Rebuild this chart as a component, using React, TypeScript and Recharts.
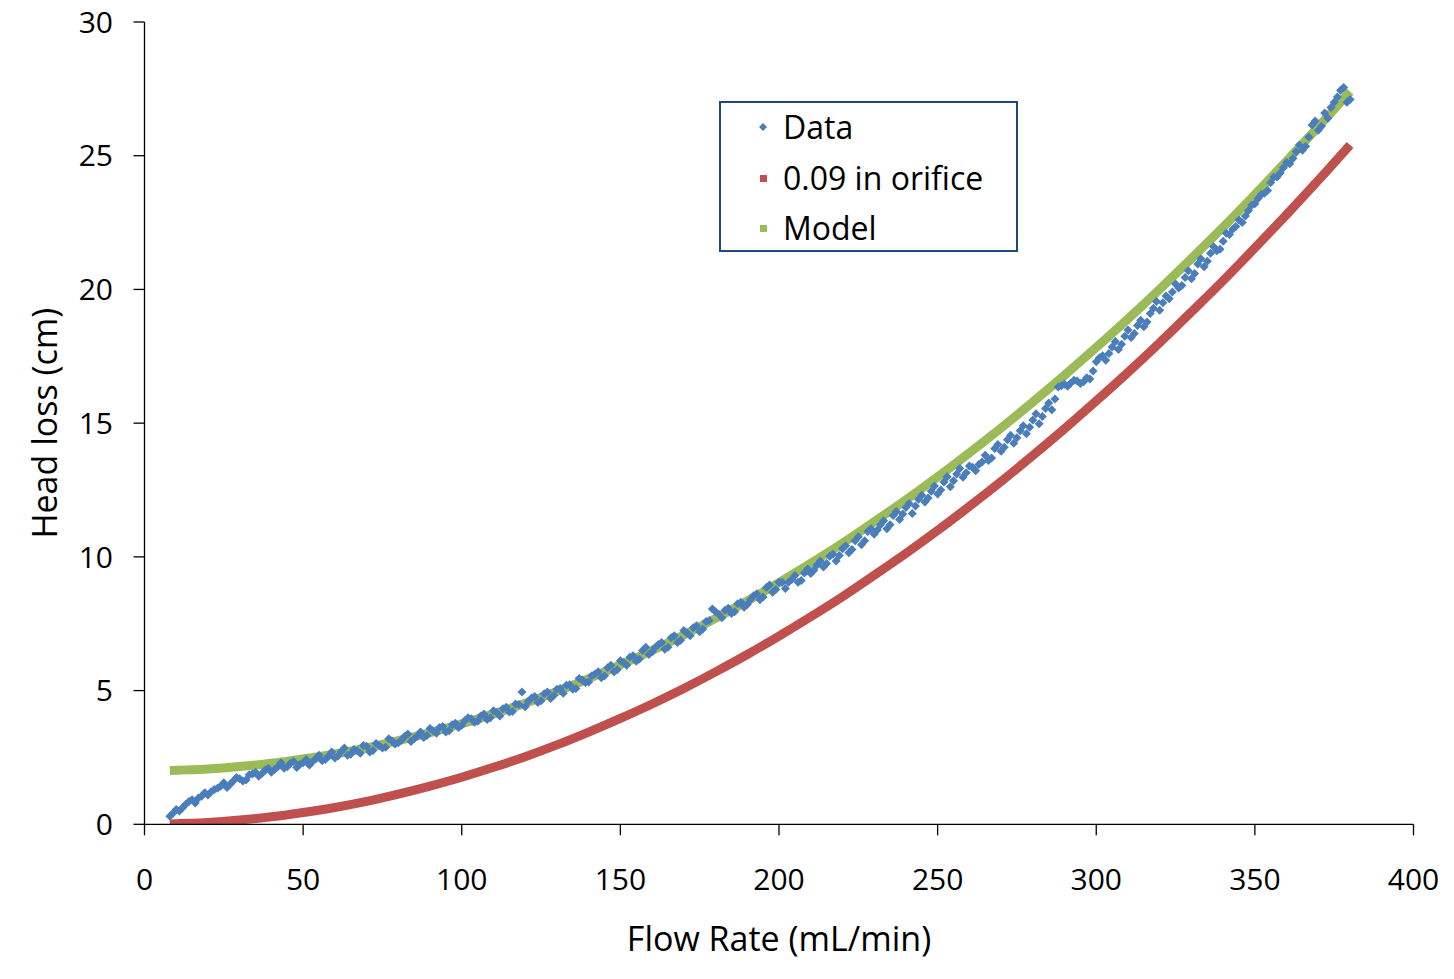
import {
    ComposedChart,
    Scatter,
    Line,
    XAxis,
    YAxis,
    Legend,
} from "recharts";

// measured flow rate (mL/min) and head loss (cm), even readings
const DATA_FLOW = [
    8, 10, 12, 14, 16, 18, 20, 22, 24, 26, 28, 30, 32, 34, 36, 38, 40, 42, 44, 46,
    48, 50, 52, 54, 56, 58, 60, 62, 64, 66, 68, 70, 72, 74, 76, 78, 80, 82, 84, 86,
    88, 90, 92, 94, 96, 98, 100, 102, 104, 106, 108, 110, 112, 114, 116, 118, 120, 122, 124, 126,
    128, 130, 132, 134, 136, 138, 140, 142, 144, 146, 148, 150, 152, 154, 156, 158, 160, 162, 164, 166,
    168, 170, 172, 174, 176, 178, 180, 182, 184, 186, 188, 190, 192, 194, 196, 198, 200, 202, 204, 206,
    208, 210, 212, 214, 216, 218, 220, 222, 224, 226, 228, 230, 232, 234, 236, 238, 240, 242, 244, 246,
    248, 250, 252, 254, 256, 258, 260, 262, 264, 266, 268, 270, 272, 274, 276, 278, 280, 282, 284, 286,
    288, 290, 292, 294, 296, 298, 300, 302, 304, 306, 308, 310, 312, 314, 316, 318, 320, 322, 324, 326,
    328, 330, 332, 334, 336, 338, 340, 342, 344, 346, 348, 350, 352, 354, 356, 358, 360, 362, 364, 366,
    368, 370, 372, 374, 376, 378, 380,
];
const DATA_HEAD = [
    0.3, 0.55, 0.62, 0.85, 0.8, 1.05, 1.1, 1.3, 1.42, 1.38, 1.62, 1.7, 1.66, 1.88, 1.8, 2.02, 1.95, 2.15, 2.1, 2.28,
    2.12, 2.3, 2.22, 2.45, 2.38, 2.55, 2.48, 2.72, 2.58, 2.8, 2.66, 2.92, 2.76, 2.95, 2.88, 3.12, 3.05, 3.28, 3.1, 3.3,
    3.25, 3.58, 3.4, 3.66, 3.5, 3.78, 3.7, 3.98, 3.82, 4.05, 3.92, 4.25, 4.05, 4.38, 4.22, 4.48, 4.4, 4.72, 4.55, 4.88,
    4.7, 5.05, 4.9, 5.22, 5.08, 5.4, 5.32, 5.62, 5.48, 5.85, 5.7, 6.12, 5.95, 6.3, 6.18, 6.62, 6.45, 6.72, 6.55, 6.98,
    6.8, 7.25, 7.05, 7.42, 7.3, 7.62, 7.95, 7.72, 8.08, 7.95, 8.3, 8.22, 8.55, 8.4, 8.85, 8.68, 9.05, 8.82, 9.15, 9.05,
    9.4, 9.38, 9.7, 9.62, 10.02, 9.85, 10.3, 10.15, 10.6, 10.45, 10.95, 10.85, 11.2, 11.05, 11.55, 11.4, 11.85, 11.62, 12.15, 12.05,
    12.45, 12.35, 12.8, 12.62, 13.1, 12.98, 13.4, 13.22, 13.55, 13.6, 14.05, 13.95, 14.38, 14.25, 14.72, 14.6, 15.12, 14.98, 15.55, 15.5,
    16.35, 16.45, 16.5, 16.58, 16.55, 16.65, 17.3, 17.52, 17.6, 18.05, 17.95, 18.48, 18.35, 18.85, 18.78, 19.3, 19.22, 19.75, 19.9, 20.05,
    20.45, 20.4, 20.95, 20.85, 21.35, 21.45, 21.8, 22.05, 22.35, 22.5, 22.95, 23.2, 23.55, 23.7, 24.2, 24.35, 24.75, 24.9, 25.4, 25.35,
    26.15, 25.95, 26.6, 26.8, 27.2, 27.55, 27.1,
];

// odd readings
const DATA_FLOW_ODD = [
    9, 11, 13, 15, 17, 19, 21, 23, 25, 27, 29, 31, 33, 35, 37, 39, 41, 43, 45, 47,
    49, 51, 53, 55, 57, 59, 61, 63, 65, 67, 69, 71, 73, 75, 77, 79, 81, 83, 85, 87,
    89, 91, 93, 95, 97, 99, 101, 103, 105, 107, 109, 111, 113, 115, 117, 119, 121, 123, 125, 127,
    129, 131, 133, 135, 137, 139, 141, 143, 145, 147, 149, 151, 153, 155, 157, 159, 161, 163, 165, 167,
    169, 171, 173, 175, 177, 179, 181, 183, 185, 187, 189, 191, 193, 195, 197, 199, 201, 203, 205, 207,
    209, 211, 213, 215, 217, 219, 221, 223, 225, 227, 229, 231, 233, 235, 237, 239, 241, 243, 245, 247,
    249, 251, 253, 255, 257, 259, 261, 263, 265, 267, 269, 271, 273, 275, 277, 279, 281, 283, 285, 287,
    289, 291, 293, 295, 297, 299, 301, 303, 305, 307, 309, 311, 313, 315, 317, 319, 321, 323, 325, 327,
    329, 331, 333, 335, 337, 339, 341, 343, 345, 347, 349, 351, 353, 355, 357, 359, 361, 363, 365, 367,
    369, 371, 373, 375, 377, 379,
];
const DATA_HEAD_ODD = [
    0.42, 0.5, 0.75, 0.92, 0.98, 1.18, 1.22, 1.35, 1.55, 1.5, 1.75, 1.62, 1.85, 1.95, 1.9, 2.1, 2.05, 2.3, 2.15, 2.35,
    2.25, 2.42, 2.35, 2.58, 2.42, 2.7, 2.55, 2.85, 2.62, 2.75, 2.95, 2.7, 3.02, 2.85, 3.2, 3.0, 3.15, 3.38, 3.2, 3.45,
    3.32, 3.5, 3.62, 3.45, 3.72, 3.62, 3.88, 3.95, 3.85, 4.12, 3.98, 4.18, 4.32, 4.2, 4.5, 4.95, 4.6, 4.78, 4.62, 4.95,
    4.82, 5.08, 5.2, 5.05, 5.45, 5.3, 5.55, 5.7, 5.55, 5.95, 5.78, 6.05, 6.25, 6.1, 6.5, 6.35, 6.62, 6.8, 6.62, 7.05,
    6.88, 7.15, 7.35, 7.2, 7.58, 8.05, 7.85, 8.0, 7.88, 8.25, 8.12, 8.4, 8.62, 8.5, 8.95, 8.78, 9.05, 9.05, 9.3, 9.12,
    9.55, 9.5, 9.85, 9.75, 10.1, 10.05, 10.42, 10.28, 10.75, 10.6, 11.05, 11.0, 11.35, 11.2, 11.7, 11.6, 12.0, 11.9, 12.3, 12.2,
    12.65, 12.5, 13.0, 12.85, 13.3, 13.15, 13.35, 13.45, 13.8, 13.7, 14.2, 14.1, 14.55, 14.45, 14.9, 14.85, 15.35, 15.25, 15.75, 15.9,
    16.4, 16.38, 16.6, 16.48, 16.7, 16.95, 17.45, 17.35, 17.85, 17.75, 18.25, 18.2, 18.65, 18.6, 19.1, 19.55, 19.5, 19.65, 20.2, 20.15,
    20.7, 20.6, 21.15, 21.05, 21.6, 21.5, 22.1, 22.25, 22.6, 22.75, 23.15, 23.4, 23.6, 24.0, 24.2, 24.55, 24.7, 25.15, 25.2, 25.7,
    26.3, 26.1, 26.4, 27.0, 27.45, 27.0,
];

// orifice and model curves
const CURVE_FLOW = [
    8, 10, 20, 30, 40, 50, 60, 70, 80, 90, 100, 110, 120, 130, 140, 150, 160, 170, 180, 190,
    200, 210, 220, 230, 240, 250, 260, 270, 280, 290, 300, 310, 320, 330, 340, 350, 360, 370, 380,
];
const ORIFICE_HEAD = [
    0.01, 0.02, 0.07, 0.16, 0.28, 0.44, 0.63, 0.86, 1.13, 1.43, 1.76, 2.13, 2.53, 2.97, 3.45, 3.96, 4.5, 5.08, 5.7, 6.35,
    7.04, 7.76, 8.51, 9.31, 10.13, 10.99, 11.89, 12.82, 13.79, 14.79, 15.83, 16.9, 18.01, 19.16, 20.33, 21.55, 22.8, 24.08, 25.4,
];
const MODEL_HEAD = [
    2.01, 2.02, 2.07, 2.16, 2.28, 2.44, 2.63, 2.86, 3.13, 3.43, 3.76, 4.13, 4.53, 4.97, 5.45, 5.96, 6.5, 7.08, 7.7, 8.35,
    9.04, 9.76, 10.51, 11.31, 12.13, 12.99, 13.89, 14.82, 15.79, 16.79, 17.83, 18.9, 20.01, 21.16, 22.33, 23.55, 24.8, 26.08, 27.4,
];

const X_TICKS = [0, 50, 100, 150, 200, 250, 300, 350, 400];
const Y_TICKS = [0, 5, 10, 15, 20, 25, 30];

const BLUE = "#4A7EBB";
const RED = "#C0504D";
const GREEN = "#9BBB59";
const FONT = "'Open Sans', sans-serif";

const dataPoints = [
    ...DATA_FLOW.map((flow, i) => ({ flow, head: DATA_HEAD[i] })),
    ...DATA_FLOW_ODD.map((flow, i) => ({ flow, head: DATA_HEAD_ODD[i] })),
];
const orificePoints = CURVE_FLOW.map((flow, i) => ({ flow, head: ORIFICE_HEAD[i] }));
const modelPoints = CURVE_FLOW.map((flow, i) => ({ flow, head: MODEL_HEAD[i] }));

const Diamond = (props: any) => {
    const { cx, cy } = props;
    const r = 4.5;
    return (
        <polygon
            points={`${cx},${cy - r} ${cx + r},${cy} ${cx},${cy + r} ${cx - r},${cy}`}
            fill={BLUE}
        />
    );
};

const YTitle = (props: any) => {
    const vb = props.viewBox || {};
    const cx = 44;
    const cy = (vb.y ?? 22) + (vb.height ?? 802) / 2;
    return (
        <text
            x={cx}
            y={cy}
            transform={`rotate(-90 ${cx} ${cy})`}
            textAnchor="middle"
            dominantBaseline="central"
            fontSize={34}
            fontFamily={FONT}
            fill="#000"
        >
            Head loss (cm)
        </text>
    );
};

const XTitle = (props: any) => {
    const vb = props.viewBox || {};
    const cx = (vb.x ?? 144.5) + (vb.width ?? 1269) / 2;
    return (
        <text
            x={cx}
            y={938}
            textAnchor="middle"
            dominantBaseline="central"
            fontSize={34}
            fontFamily={FONT}
            fill="#000"
        >
            Flow Rate (mL/min)
        </text>
    );
};

const LEGEND_ITEMS = [
    { name: "Data", color: BLUE, diamond: true },
    { name: "0.09 in orifice", color: RED, diamond: false },
    { name: "Model", color: GREEN, diamond: false },
];

const LegendBox = () => (
    <div
        style={{
            width: 295,
            height: 147,
            border: "2.5px solid #1F497D",
            background: "#fff",
            position: "relative",
            fontFamily: FONT,
        }}
    >
        {LEGEND_ITEMS.map((item, i) => (
            <div
                key={item.name}
                style={{
                    position: "absolute",
                    left: 0,
                    top: 24 + i * 50.5 - 20,
                    height: 40,
                    display: "flex",
                    alignItems: "center",
                }}
            >
                <svg width={62} height={40}>
                    {item.diamond ? (
                        <polygon points="42,16 46,20 42,24 38,20" fill={item.color} />
                    ) : (
                        <rect x={39} y={17} width={7} height={7} fill={item.color} />
                    )}
                </svg>
                <span style={{ fontSize: 32, color: "#000", lineHeight: "40px" }}>
                    {item.name}
                </span>
            </div>
        ))}
    </div>
);

export default function App() {
    return (
        <div style={{ position: "absolute", left: 0, top: 0 }}>
            <ComposedChart
                width={1454}
                height={979}
                margin={{ top: 22, right: 40.5, bottom: 0, left: 0 }}
                style={{ background: "#fff" }}
            >
                <XAxis
                    type="number"
                    dataKey="flow"
                    domain={[0, 400]}
                    ticks={X_TICKS}
                    height={154.7}
                    tickSize={11}
                    tickMargin={33}
                    stroke="#000"
                    strokeWidth={1.3}
                    tick={{ fontSize: 30, fill: "#000", fontFamily: FONT }}
                    allowDataOverflow
                    label={<XTitle />}
                />
                <YAxis
                    type="number"
                    dataKey="head"
                    domain={[0, 30]}
                    ticks={Y_TICKS}
                    width={144.5}
                    tickSize={11}
                    tickMargin={20.5}
                    stroke="#000"
                    strokeWidth={1.3}
                    tick={{ fontSize: 30, fill: "#000", fontFamily: FONT }}
                    allowDataOverflow
                    label={<YTitle />}
                />
                <Legend
                    layout="vertical"
                    align="center"
                    verticalAlign="middle"
                    content={<LegendBox />}
                    wrapperStyle={{ left: 719, top: 101, width: 300, height: 152 }}
                />
                <Scatter
                    name="Data"
                    data={dataPoints}
                    fill={BLUE}
                    shape={<Diamond />}
                    isAnimationActive={false}
                />
                <Line
                    name="0.09 in orifice"
                    data={orificePoints}
                    dataKey="head"
                    type="monotone"
                    stroke={RED}
                    strokeWidth={9}
                    strokeLinecap="butt"
                    dot={false}
                    activeDot={false}
                    isAnimationActive={false}
                />
                <Line
                    name="Model"
                    data={modelPoints}
                    dataKey="head"
                    type="monotone"
                    stroke={GREEN}
                    strokeWidth={9}
                    strokeLinecap="butt"
                    dot={false}
                    activeDot={false}
                    isAnimationActive={false}
                />
            </ComposedChart>
        </div>
    );
}
